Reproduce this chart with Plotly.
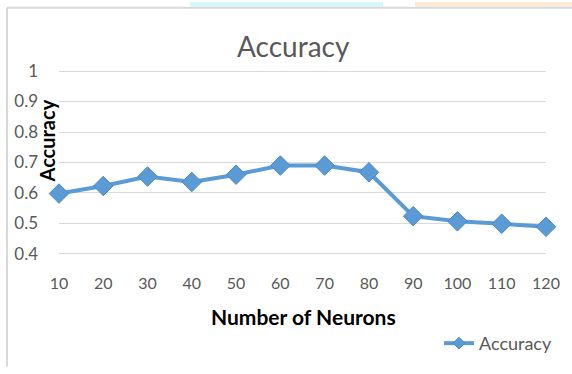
import plotly.graph_objects as go

neurons = [10, 20, 30, 40, 50, 60, 70, 80, 90, 100, 110, 120]
accuracy = [0.598, 0.623, 0.654, 0.636, 0.660, 0.690, 0.690, 0.668, 0.524, 0.507, 0.499, 0.489]
y_ticks = [0.4, 0.5, 0.6, 0.7, 0.8, 0.9, 1.0]
y_tick_labels = ["0.4", "0.5", "0.6", "0.7", "0.8", "0.9", "1"]

W, H = 572, 374
L, R = 59, 546
T, B = 67.7, 261.4
def px(x):
    return (x - L) / (R - L)
def py(y):
    return (B - y) / (B - T)

FONT = "Lato, Open Sans, sans-serif"
BLUE = "#5b9bd5"

fig = go.Figure()
fig.add_trace(go.Scatter(
    x=neurons, y=accuracy, name="Accuracy", mode="lines+markers",
    line=dict(color=BLUE, width=4),
    marker=dict(symbol="diamond", size=15, color=BLUE, line=dict(color="#4a88c9", width=1)),
    cliponaxis=False, showlegend=False, legendgroup="acc",
))
# legend entry with smaller symbol, as in the reference
fig.add_trace(go.Scatter(
    x=[None], y=[None], name="Accuracy", mode="lines+markers",
    line=dict(color=BLUE, width=4),
    marker=dict(symbol="diamond", size=9, color=BLUE, line=dict(color="#4a88c9", width=1)),
    showlegend=True, legendgroup="acc",
))

fig.update_layout(
    width=W, height=H,
    margin=dict(l=L, r=W - R, t=T, b=H - B, pad=0),
    paper_bgcolor="white", plot_bgcolor="white",
    font=dict(family=FONT, color="#595959", size=16),
    showlegend=True,
    legend=dict(x=px(557), y=py(350), xanchor="right", yanchor="middle",
                font=dict(size=18, color="#595959", family=FONT),
                bgcolor="rgba(0,0,0,0)", itemwidth=30),
    xaxis=dict(range=[10, 120], tickmode="array", tickvals=neurons,
               ticktext=[str(n) for n in neurons], showgrid=False, zeroline=False,
               showline=False, ticks="", ticklabelstandoff=15,
               tickfont=dict(size=16, color="#595959")),
    yaxis=dict(range=[0.39, 1.01], tickmode="array", tickvals=y_ticks,
               ticktext=y_tick_labels, showgrid=True, gridcolor="#d9d9d9", gridwidth=1,
               zeroline=False, showline=False, ticks="", ticklabelstandoff=20,
               tickfont=dict(size=17, color="#595959")),
    annotations=[
        dict(text="Accuracy", x=px(293), y=py(45), xref="paper", yref="paper",
             showarrow=False, font=dict(size=28, color="#595959", family=FONT),
             xanchor="center", yanchor="middle"),
        dict(text="<b>Accuracy</b>", x=px(47), y=py(143), xref="paper", yref="paper",
             showarrow=False, textangle=-90, font=dict(size=20, color="black", family=FONT),
             xanchor="center", yanchor="middle"),
        dict(text="<b>Number of Neurons</b>", x=px(303), y=py(322), xref="paper", yref="paper",
             showarrow=False, font=dict(size=21, color="black", family=FONT),
             xanchor="center", yanchor="middle"),
    ],
    shapes=[
        dict(type="rect", xref="paper", yref="paper", x0=px(190), x1=px(383), y0=py(0), y1=py(5),
             fillcolor="#d6f8fb", line=dict(width=0), layer="below"),
        dict(type="rect", xref="paper", yref="paper", x0=px(415), x1=px(572), y0=py(0), y1=py(5),
             fillcolor="#fdebd8", line=dict(width=0), layer="below"),
        dict(type="line", xref="paper", yref="paper", x0=px(7), x1=px(572), y0=py(6), y1=py(6),
             line=dict(color="#d9d9d9", width=2)),
        dict(type="line", xref="paper", yref="paper", x0=px(7), x1=px(7), y0=py(6), y1=py(374),
             line=dict(color="#d9d9d9", width=2)),
    ],
)

fig.write_html("out.html", config={"displayModeBar": False},
               post_script="document.body.style.margin='0';")
